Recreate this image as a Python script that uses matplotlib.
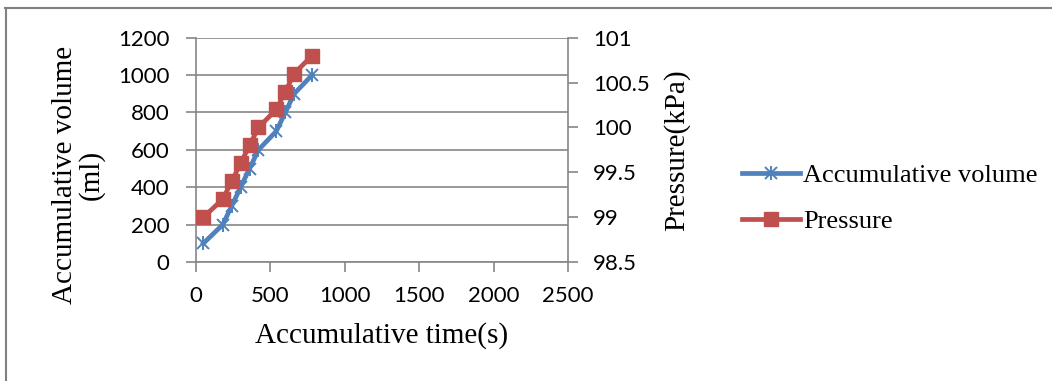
import numpy as np
import matplotlib.pyplot as plt
from matplotlib.lines import Line2D

# accumulative time (s)
time_s = [50, 180, 240, 300, 360, 420, 540, 600, 660, 780]
# accumulative volume (ml)
volume = [100, 200, 300, 400, 500, 600, 700, 800, 900, 1000]
# pressure (kPa)
pressure = [99.0, 99.2, 99.4, 99.6, 99.8, 100.0, 100.2, 100.4, 100.6, 100.8]

x_ticks = [0, 500, 1000, 1500, 2000, 2500]
y_ticks = [0, 200, 400, 600, 800, 1000, 1200]
p_ticks = [98.5, 99, 99.5, 100, 100.5, 101]

blue = '#4F81BD'
red = '#C0504D'
grey = '#868686'
serif = 'Liberation Serif'
sans = 'Lato'
lw = 3.4

fig = plt.figure(figsize=(10.52, 3.81), dpi=100)
ax = fig.add_axes([0.1863, 0.3123, 0.3536, 0.5888])
ax2 = ax.twinx()

ax.plot(time_s, volume, color=blue, lw=lw, marker='x', ms=8.5, mew=1.4, zorder=3)
ax.plot(time_s, volume, color=blue, lw=0, marker='|', ms=9.5, mew=1.4, zorder=3)
ax2.plot(time_s, pressure, color=red, lw=lw, marker='s', ms=10, zorder=3)

ax.set_xlim(0, 2500)
ax.set_ylim(0, 1200)
ax2.set_ylim(98.5, 101)
ax.set_xticks(x_ticks)
ax.set_yticks(y_ticks)
ax2.set_yticks(p_ticks)
ax2.set_yticklabels(['98.5', '99', '99.5', '100', '100.5', '101'])

ax.grid(axis='y', color=grey, lw=1.2)
ax.set_axisbelow(True)
for a in (ax, ax2):
    for s in a.spines.values():
        s.set_visible(False)
    a.tick_params(colors=grey, length=7, width=1.2, labelcolor='black', labelsize=16)
    for lab in a.get_xticklabels() + a.get_yticklabels():
        lab.set_fontfamily(sans)
ax.spines['left'].set_visible(True)
ax.spines['bottom'].set_visible(True)
ax2.spines['right'].set_visible(True)
for s in (ax.spines['left'], ax.spines['bottom'], ax2.spines['right']):
    s.set_color(grey)
    s.set_linewidth(1.2)
ax.tick_params(axis='y', pad=12)
ax.tick_params(axis='x', pad=10)
ax2.tick_params(axis='y', pad=11)

ax.set_xlabel('Accumulative time(s)', fontfamily=serif, fontsize=21, labelpad=12)
ax.set_ylabel('Accumulative volume\n(ml)', fontfamily=serif, fontsize=21,
              linespacing=1.0)
ax.yaxis.set_label_coords(-0.245, 0.388)
ax2.set_ylabel('Pressure(kPa)', fontfamily=serif, fontsize=21, labelpad=10)

handles = [
    (Line2D([], [], color=blue, lw=lw, marker='x', ms=8.5, mew=1.4),
     Line2D([], [], color=blue, lw=0, marker='|', ms=9.5, mew=1.4)),
    Line2D([], [], color=red, lw=lw, marker='s', ms=10),
]
fig.legend(handles, ['Accumulative volume', 'Pressure'], loc='center left',
           bbox_to_anchor=(0.683, 0.48), frameon=False,
           prop={'family': serif, 'size': 19}, handlelength=2.2,
           handletextpad=0.1, labelspacing=0.85)

# outer border (top and left only)
fig.add_artist(Line2D([0.005, 1], [0.979, 0.979], color='#808080', lw=1.5))
fig.add_artist(Line2D([0.0055, 0.0055], [0, 0.979], color='#808080', lw=1.5))

fig.savefig('out.png', dpi=100)
